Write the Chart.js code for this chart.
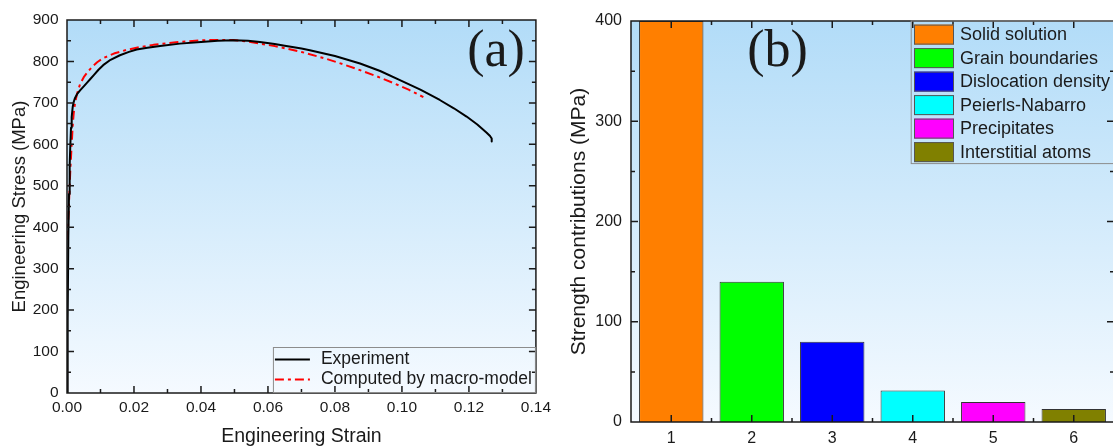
<!DOCTYPE html>
<html>
<head>
<meta charset="utf-8">
<script src="https://cdn.jsdelivr.net/npm/chart.js@4.4.0/dist/chart.umd.min.js"></script>
<style>
  html, body { margin: 0; padding: 0; background: #fff; overflow: hidden; }
  #wrap { position: relative; width: 1113px; height: 446px; overflow: hidden; }
  #curve { position: absolute; left: 0; top: 0; }
  #bars { position: absolute; left: 556px; top: 0; }
</style>
</head>
<body>
<div id="wrap">
  <canvas id="curve" width="556" height="446"></canvas>
  <canvas id="bars" width="562" height="446"></canvas>
</div>
<script>
// Engineering stress-strain curve, experiment
const expStrain = [0, 0.0002, 0.0004, 0.0006, 0.0008, 0.0010, 0.0012, 0.0014, 0.0017, 0.0020,
  0.0024, 0.0030, 0.0039, 0.0050, 0.0060, 0.0069, 0.0080, 0.0094, 0.0108, 0.0130,
  0.0158, 0.0185, 0.0208, 0.0240, 0.0278, 0.0337, 0.0400, 0.0450, 0.0496, 0.0540,
  0.0576, 0.0620, 0.0650, 0.0700, 0.0725, 0.0800, 0.0875, 0.0935, 0.0994, 0.1055,
  0.1113, 0.1155, 0.1193, 0.1225, 0.1253, 0.1263, 0.1268, 0.1268];
const expStress = [0, 180, 380, 480, 550, 600, 640, 666, 690, 702,
  712, 721, 730, 740, 749, 757, 767, 780, 791, 804,
  815, 823, 829, 833, 837, 843, 847, 850, 851, 850,
  847, 842, 838, 831, 827, 813, 795, 777, 755, 732,
  707, 687, 667, 648, 628, 620, 614, 607];

// Same curve computed by the macro-model
const modelStrain = [0.0002, 0.0004, 0.0007, 0.0010, 0.0014, 0.0017, 0.0020, 0.0024, 0.0030, 0.0039,
  0.0050, 0.0062, 0.0075, 0.0090, 0.0108, 0.0140, 0.0178, 0.0220, 0.0258, 0.0300,
  0.0337, 0.0397, 0.0450, 0.0496, 0.0540, 0.0576, 0.0620, 0.0656, 0.0700, 0.0775,
  0.0825, 0.0875, 0.0925, 0.0974, 0.1020, 0.1064];
const modelStress = [370, 420, 480, 540, 600, 645, 675, 700, 722, 745,
  762, 775, 787, 798, 808, 819, 828, 835, 840, 844,
  847, 851, 852, 852, 848, 843, 837, 831, 823, 806,
  793, 779, 764, 748, 732, 714];

// Strengthening contributions
const barLabels = ["1", "2", "3", "4", "5", "6"];
const mechanisms = ["Solid solution", "Grain boundaries", "Dislocation density",
  "Peierls-Nabarro", "Precipitates", "Interstitial atoms"];
const contributions = [400, 140, 80, 31.5, 20, 13];
const mechColors = ["#ff7f00", "#00ff00", "#0000ff", "#00ffff", "#ff00ff", "#808000"];

const INK = "#1a1a1a";
const SANS = 'Arial, "Liberation Sans", sans-serif';
const SERIF = '"Times New Roman", "Liberation Serif", serif';

Chart.defaults.font.family = SANS;
Chart.defaults.color = INK;
Chart.defaults.animation = false;

// gradient fill behind the plot area
const skyBackground = {
  id: "skyBackground",
  beforeDraw(chart) {
    const { ctx, chartArea: a } = chart;
    const g = ctx.createLinearGradient(0, a.top, 0, a.bottom);
    g.addColorStop(0, "#b2dcf8");
    g.addColorStop(1, "#f5faff");
    ctx.save();
    ctx.fillStyle = g;
    ctx.fillRect(a.left, a.top, a.width, a.height);
    ctx.restore();
  }
};

// box around the plot with inward major/minor ticks on all four sides
function tickValues(scale) {
  const major = scale.ticks.map(t => t.value);
  const step = major.length > 1 ? major[1] - major[0] : 1;
  const minor = major.map(v => v - step / 2);
  minor.push(major[major.length - 1] + step / 2);
  return { major, minor };
}

const frameTicks = {
  id: "frameTicks",
  afterDatasetsDraw(chart) {
    const { ctx, chartArea: a, scales } = chart;
    ctx.save();
    ctx.strokeStyle = INK;
    ctx.lineWidth = 1.5;
    ctx.beginPath();
    const xs = tickValues(scales.x);
    const ys = tickValues(scales.y);
    const put = (vals, len, horiz) => {
      vals.forEach(v => {
        if (horiz) {
          const px = scales.x.getPixelForValue(v);
          if (px < a.left + 1 || px > a.right - 1) return;
          ctx.moveTo(px, a.bottom); ctx.lineTo(px, a.bottom - len);
          ctx.moveTo(px, a.top); ctx.lineTo(px, a.top + len);
        } else {
          const py = scales.y.getPixelForValue(v);
          if (py < a.top + 1 || py > a.bottom - 1) return;
          ctx.moveTo(a.left, py); ctx.lineTo(a.left + len, py);
          ctx.moveTo(a.right, py); ctx.lineTo(a.right - len, py);
        }
      });
    };
    put(xs.major, 7, true);
    put(xs.minor, 4, true);
    put(ys.major, 7, false);
    put(ys.minor, 4, false);
    ctx.stroke();
    ctx.strokeRect(a.left, a.top, a.width, a.height);
    ctx.restore();
  }
};

function panelTag(ctx, text, x) {
  ctx.save();
  ctx.font = "52px " + SERIF;
  ctx.fillStyle = INK;
  ctx.textAlign = "center";
  ctx.textBaseline = "alphabetic";
  ctx.fillText(text, x, 66);
  ctx.restore();
}

// legend of the stress-strain panel, lower right corner
const curveLegend = {
  id: "curveLegend",
  afterDraw(chart) {
    const { ctx, chartArea: a } = chart;
    const left = a.right - 263, top = a.bottom - 46;
    ctx.save();
    ctx.strokeStyle = "#8c8c8c";
    ctx.lineWidth = 1;
    ctx.strokeRect(left + 0.5, top + 0.5, a.right - left - 1, a.bottom - top - 1);
    ctx.font = "17.5px " + SANS;
    ctx.fillStyle = INK;
    ctx.textBaseline = "middle";
    chart.data.datasets.forEach((ds, i) => {
      const y = top + 12.5 + i * 20;
      ctx.strokeStyle = ds.borderColor;
      ctx.lineWidth = ds.borderWidth;
      ctx.setLineDash(ds.borderDash || []);
      ctx.beginPath();
      ctx.moveTo(left + 2, y);
      ctx.lineTo(left + 37, y);
      ctx.stroke();
      ctx.setLineDash([]);
      ctx.fillText(ds.label, left + 48, y);
    });
    ctx.restore();
    panelTag(ctx, "(a)", 496);
  }
};

// legend of the contributions panel, upper right corner
const barLegend = {
  id: "barLegend",
  afterDraw(chart) {
    const { ctx, chartArea: a } = chart;
    const ds = chart.data.datasets[0];
    const left = a.right - 203.3, top = a.top;
    ctx.save();
    ctx.strokeStyle = "#8c8c8c";
    ctx.lineWidth = 1;
    ctx.strokeRect(left + 0.5, top, a.right - left, 142.6);
    ctx.font = "18px " + SANS;
    ctx.textBaseline = "middle";
    mechanisms.forEach((name, i) => {
      const y = top + 3.6 + i * 23.5;
      ctx.fillStyle = ds.backgroundColor[i];
      ctx.fillRect(left + 3.3, y, 40, 20);
      ctx.strokeStyle = "#555";
      ctx.strokeRect(left + 3.8, y + 0.5, 39, 19);
      ctx.fillStyle = INK;
      ctx.fillText(name, left + 49.3, y + 10.5);
    });
    ctx.restore();
    panelTag(ctx, "(b)", 221.5);
  }
};

new Chart(document.getElementById("curve"), {
  type: "line",
  data: {
    datasets: [
      {
        label: "Experiment",
        data: expStrain.map((s, i) => ({ x: s, y: expStress[i] })),
        borderColor: "#000000",
        borderWidth: 2,
        pointRadius: 0,
        tension: 0,
        borderJoinStyle: "round"
      },
      {
        label: "Computed by macro-model",
        data: modelStrain.map((s, i) => ({ x: s, y: modelStress[i] })),
        borderColor: "#ff0000",
        borderWidth: 2,
        borderDash: [9, 4, 3, 4],
        pointRadius: 0,
        tension: 0,
        borderJoinStyle: "round"
      }
    ]
  },
  options: {
    responsive: false,
    layout: { padding: { top: 20, right: 20, left: 0, bottom: 0 } },
    plugins: { legend: { display: false }, tooltip: { enabled: false } },
    scales: {
      x: {
        type: "linear",
        min: 0,
        max: 0.14,
        grid: { display: false, drawTicks: false },
        border: { display: false },
        ticks: {
          stepSize: 0.02,
          padding: 5,
          font: { size: 15.5 },
          callback: v => v.toFixed(2)
        },
        title: {
          display: true,
          text: "Engineering Strain",
          font: { size: 19.5, lineHeight: 1 },
          padding: { top: 0, bottom: 0 }
        },
        afterFit: s => { s.height = 53; }
      },
      y: {
        min: 0,
        max: 900,
        grid: { display: false, drawTicks: false },
        border: { display: false },
        ticks: { stepSize: 100, padding: 8.5, font: { size: 15.5 } },
        title: {
          display: true,
          text: "Engineering Stress (MPa)",
          font: { size: 18.5, lineHeight: 1 },
          padding: { top: 10.8, bottom: 0 }
        },
        afterFit: s => { s.width = 67; }
      }
    }
  },
  plugins: [skyBackground, frameTicks, curveLegend]
});

new Chart(document.getElementById("bars"), {
  type: "bar",
  data: {
    labels: barLabels,
    datasets: [
      {
        label: "Strength contributions",
        data: contributions,
        backgroundColor: mechColors,
        borderColor: "#333333",
        borderWidth: 1,
        categoryPercentage: 1,
        barPercentage: 0.8
      }
    ]
  },
  options: {
    responsive: false,
    layout: { padding: { top: 21, right: 4, left: 0, bottom: 0 } },
    plugins: { legend: { display: false }, tooltip: { enabled: false } },
    scales: {
      x: {
        grid: { display: false, drawTicks: false },
        border: { display: false },
        ticks: { padding: 7, font: { size: 16 } },
        afterFit: s => { s.height = 24; }
      },
      y: {
        min: 0,
        max: 400,
        grid: { display: false, drawTicks: false },
        border: { display: false },
        ticks: { stepSize: 100, padding: 9, font: { size: 16 } },
        title: {
          display: true,
          text: "Strength contributions (MPa)",
          font: { size: 21, lineHeight: 1 },
          padding: { top: 12.9, bottom: 0 }
        },
        afterFit: s => { s.width = 75; }
      }
    }
  },
  plugins: [skyBackground, frameTicks, barLegend]
});
</script>
</body>
</html>
